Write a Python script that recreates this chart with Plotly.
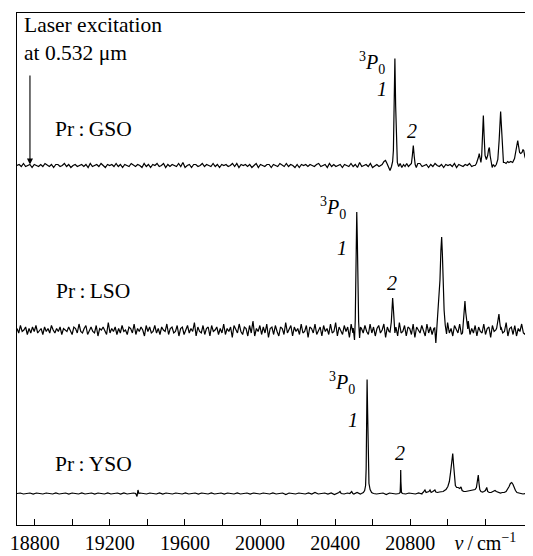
import numpy as np
import plotly.graph_objects as go

# ---------------- data ----------------
X_START, X_END = 18706, 21448          # wavenumber range, cm^-1
TICK_VALS = [18800, 19000, 19200, 19400, 19600, 19800, 20000, 20200,
             20400, 20600, 20800, 21000, 21200]
TICK_TEXT = ["18800", "", "19200", "", "19600", "", "20000", "",
             "20400", "", "20800", "", "<i>ν</i>\u2009/\u2009cm<sup>−1</sup>"]
LASER_CM = 18775                        # laser line marker position

# vertical offsets of the three stacked traces (arbitrary intensity units)
GSO_BASE, LSO_BASE, YSO_BASE = 359.5, 195.0, 31.5

GSO_NOISE = [0, 1, -1, 2, -1, 0, 1, -2, 1, 0, -1, 1, -1, 2, 0, -1, 1, -2, 1, 1, -1, 0, 2, -1, 1, -2, 0, 1, -1, 0,
             1, -1, 1, -2, 2, -1, 0, 1, -1, 2, 0, -2, 1, 0, 1, -1, 2, -1, 1, -2, 1, 0, -1, 2, 0, -1, 1, 0, -2, 2,
             -1, 1, -2, 1, 0, 2, -1, 0, 2, -2, 1, -1, 1, 0, -1, 2, -1, 3, -2, 0, 1, -2, 1, 1, -1, 0, 2, -1, 1, 0,
             -1, 2, -1, 1, -2, 1, 0, 1, -1, 0, 2, -1, 2, -2, 1, 0, 1, -1, 1, -2, 0, 2, -2, 1, 0, -1, 1, 1, -2, 1,
             0, -1, 2, 0, -1, 2, -1, 1, 0, -2, 1, -2, 1, 0, 1, -1, 1, 0, -1, 1, 2, -1, 0, 1, -2, 2, -1, 1, -1, 0,
             1, -2, 1, 0, -1, 2, -1, 1, -2, 3, -1, 0, 1, -1, 2, -2, 0, 1, -1, 1, 0, -2, 2, -1, 1, 0, -1, 2, -2, 1,
             -1, 1, 0, -2, 1, 1, -1, 2, -1, 0, 1, -2, 1, -1, 2, 0, -1, 1, -2, 1, 0, 1, -1, 2, -2, 1, 0, -1, 1, 0,
             2, -1, 0, 1, -2, 1, -1, 2, 0, -1, 1, -1, 2, -2, 1, 0, -1, 1, 0, -2, 1, 2, -1, 0, 1, -1, 2, -1, 0, 1]

LSO_NOISE = [1.5, -3, 4.5, -1.5, 0, 3, -4.5, 1.5, -3, 3, -1.5, 4.5, -3, 0, 1.5, -4.5, 3, -1.5, 1.5, -3, 4.5, 0, -3, 1.5, -1.5, 3, -4.5, 1.5, 0, -1.5,
             3, -1.5, -4.5, 3, 1.5, -3, 6, -1.5, -3, 1.5, 4.5, -4.5, 0, 3, -1.5, -3, 4.5, -6, 1.5, 0, 3, -1.5, -4.5, 7.5, -3, 1.5, -1.5, 3, -4.5, 1.5,
             -3, 4.5, -1.5, 0, -4.5, 3, 1.5, -3, 6, -4.5, 1.5, -1.5, 3, 0, -6, 4.5, -1.5, 3, -3, -1.5, 4.5, -3, 1.5, -4.5, 3, 0, -1.5, 6, -4.5, 1.5,
             3, -3, -1.5, 4.5, -6, 1.5, 3, -4.5, 0, 4.5, -3, 1.5, -1.5, 7.5, -6, 3, -1.5, -3, 4.5, -4.5, 1.5, 3, -6, 4.5, -1.5, 0, 3, -4.5, 1.5, -3,
             6, -4.5, 1.5, -1.5, 3, -7.5, 4.5, 0, -3, 6, -1.5, -4.5, 3, 1.5, -6, 4.5, -3, 9, -6, 1.5, -1.5, 4.5, -4.5, 3, -3, 6, -7.5, 1.5, 3, -4.5,
             4.5, -1.5, -6, 3, 1.5, -4.5, 7.5, -3, 0, 4.5, -6, 3, -1.5, 1.5, -4.5, 6, -3, -1.5, 4.5, -7.5, 3, 1.5, -3, 6, -4.5, 0, 3, -6, 4.5, -1.5,
             1.5, -4.5, 6, -3, -1.5, 7.5, -6, 3, 0, -4.5, 4.5, -1.5, 3, -7.5, 6, -3, 1.5, -4.5, 9, -6, 1.5, -3, 4.5, -1.5, -4.5, 6, -3, 3, -6, 1.5,
             4.5, -3, 0, 6, -7.5, 3, -1.5, 4.5, -4.5, 1.5, 3, -6, 7.5, -3, -1.5, 4.5, -6, 3, 1.5, -4.5, 6, -7.5, 3, 0, -3, 4.5, -1.5, -6, 6, -3,
             3, -4.5, 1.5, 7.5, -6, 1.5, -3, 4.5, -1.5, -4.5, 7.5, -3, 1.5, -6, 4.5, 0, -3, 6, -4.5, 3, -1.5, -6, 9, -4.5, 1.5, -3, 4.5, -6, 3, -1.5,
             -3, 6, -4.5, 1.5, 3, -7.5, 4.5, -1.5, 0, 6, -4.5, 3, -3, -1.5, 7.5, -6, 1.5, 3, -4.5, 4.5, -6, 1.5, -1.5, 6, -3, -4.5, 4.5, -1.5, 3, 0]

YSO_NOISE = [0, 0.5, -0.5, 0, 0.5, -0.5, 0.5, 0, -0.5, 0.5, 0, -0.5, 0.5, -0.5, 0, 0.5, -0.5, 0.5, 0, -0.5,
             0.5, -0.5, 0, 0.5, -0.5, 0.5, 0, -0.5, 0.5, -0.5, 0, 0.5, -0.5, 0.5, -0.5, 0, 0.5, -0.5, 0.5, 0,
             -0.5, 0.5, 0, -0.5, 0.5, -0.5, 0.5, 0, -0.5, 0.5, 0, -0.5, 0.5, -0.5, 0, 0.5, -0.5, 0.5, 0, -0.5,
             0.5, -0.5, 0, 0.5, -0.5, 0.5, 0, -0.5, 0.5, -0.5, 0, 0.5, -0.5, 0.5, 0, -0.5, 0.5, 0, -0.5, 0.5,
             -0.5, 0, 0.5, -1, 0.5, 0, -0.5, 0.5, 0, -0.5, 0.5, -0.5, 1, -0.5, 0, 0.5, -0.5, 0.5, -1, 0.5,
             0, -0.5, 0.5, 0, -0.5, 1, -0.5, 0.5, 0, -0.5, 0.5, -0.5, 0, 0.5, -1, 0.5, 0, -0.5, 0.5, 0,
             -0.5, 0.5, 0, -0.5, 0.5, -0.5, 0, 0.5, -0.5, 0.5, 0, -0.5, 0.5, -0.5, 0, 0.5, -0.5, 0.5, 0, -0.5,
             0.5, -0.5, 0, 0.5, -0.5, 0.5, 0, -0.5, 0.5, -0.5, 0, 0.5, -0.5, 0.5, 0, -0.5, 0.5, 0, -0.5, 0]

# digitised peak regions: (wavenumber, height above baseline)
GSO_PEAKS = [
    [(20650, 1), (20660, 4), (20668, 5), (20676, 2), (20686, -2), (20692, -5), (20700, -1), (20706, 4),
     (20710, 15), (20714, 60), (20718, 107), (20722, 60), (20726, 15), (20731, 3), (20738, -1), (20746, 2),
     (20755, -2), (20764, 1), (20772, -1), (20781, 2), (20790, -1), (20798, 1), (20806, 2), (20811, 10),
     (20816, 20), (20821, 9), (20826, 1), (20832, -2), (20840, 2)],
    [(21145, 0), (21152, 2), (21158, 5), (21164, 9), (21167, 12), (21171, 5), (21176, 3), (21180, 9),
     (21185, 30), (21189, 50), (21193, 30), (21198, 10), (21205, 6), (21212, 10), (21217, 16), (21221, 18),
     (21225, 10), (21230, 3), (21236, -2), (21242, 1), (21250, -1), (21258, 1), (21266, 6), (21273, 25),
     (21278, 45), (21281, 54), (21285, 40), (21290, 15), (21296, 3), (21303, 3), (21310, 2), (21318, 4),
     (21325, 3), (21335, 4), (21345, 3), (21355, 7), (21362, 14), (21368, 22), (21372, 25), (21376, 20),
     (21382, 13), (21388, 12), (21395, 13), (21400, 16), (21404, 15), (21410, 9), (21417, 4), (21425, 1),
     (21433, 0), (21440, 1), (21448, 0)],
]

LSO_PEAKS = [
    [(20496, 2), (20503, -10), (20507, 10), (20510, 45), (20512, 95), (20515, 118), (20518, 90),
     (20521, 40), (20525, 8), (20530, -8), (20535, 3)],
    [(20692, -2), (20699, 8), (20703, 25), (20706, 32), (20709, 24), (20713, 8), (20718, -3)],
    [(20930, 2), (20936, -13), (20942, 4), (20947, 12), (20952, 25), (20958, 50), (20963, 80), (20967, 93),
     (20971, 75), (20975, 45), (20980, 20), (20986, 5), (20993, -4)],
    [(21078, -3), (21084, 10), (21088, 24), (21091, 29), (21095, 18), (21100, 8), (21106, 1)],
    [(21260, 2), (21267, 10), (21272, 16), (21276, 8), (21282, 0)],
]

YSO_PEAKS = [
    [(19338, 0), (19345, -3), (19350, 3.5), (19355, 0)],
    [(20414, 0), (20420, 1), (20426, 2), (20432, 0)],
    [(20478, 0), (20484, 1.5), (20488, 2), (20494, 0)],
    [(20540, 0), (20550, 1), (20557, 3), (20562, 8), (20565, 25), (20567, 70), (20570, 114), (20573, 80),
     (20576, 30), (20580, 10), (20586, 4), (20594, 1), (20604, 0)],
    [(20740, 0), (20746, 1), (20748, 12), (20749, 23.5), (20750, 12), (20753, 1), (20758, 0)],
    [(20862, 0), (20870, 1.5), (20878, 3.5), (20884, 1), (20892, 1.5), (20899, 2), (20905, 3.5),
     (20911, 1), (20920, 2), (20926, 2.5), (20931, 3.5), (20936, 1.5), (20945, 1), (20955, 1.5),
     (20965, 1.5), (20975, 2), (20982, 3), (20990, 4), (21000, 7), (21008, 12), (21015, 22), (21021, 35),
     (21026, 40), (21030, 30), (21035, 15), (21040, 8), (21047, 6), (21055, 6), (21063, 5), (21070, 6.5),
     (21076, 3), (21085, 2), (21095, 2), (21105, 2.5), (21115, 3), (21125, 3), (21135, 4), (21145, 4),
     (21152, 6), (21157, 12), (21162, 18.5), (21166, 10), (21170, 4), (21176, 2), (21185, 1.5),
     (21192, 2), (21200, 3), (21207, 6), (21212, 2), (21220, 1), (21230, 1), (21240, 2), (21251, 3),
     (21258, 2), (21268, 1), (21280, 0.5), (21290, 1), (21300, 1), (21310, 2), (21318, 4), (21326, 7),
     (21333, 10), (21340, 11), (21347, 9), (21353, 6), (21360, 3), (21368, 1), (21378, 0.5), (21390, 0),
     (21400, -0.5), (21415, 0), (21430, 0.5), (21448, 0)],
]

SAMPLES = ["Pr\u2009:\u2009GSO", "Pr\u2009:\u2009LSO", "Pr\u2009:\u2009YSO"]


def build_trace(noise, peaks, base):
    grid = np.linspace(X_START, X_END, len(noise))
    pts = [(float(x), float(n)) for x, n in zip(grid, noise)
           if not any(g[0][0] <= x <= g[-1][0] for g in peaks)]
    for g in peaks:
        pts.extend(g)
    pts.sort()
    xs = [p[0] for p in pts]
    ys = [p[1] + base for p in pts]
    return xs, ys


FONT = "Liberation Serif, serif"
fig = go.Figure()
for noise, peaks, base in [(GSO_NOISE, GSO_PEAKS, GSO_BASE),
                           (LSO_NOISE, LSO_PEAKS, LSO_BASE),
                           (YSO_NOISE, YSO_PEAKS, YSO_BASE)]:
    xs, ys = build_trace(noise, peaks, base)
    fig.add_trace(go.Scatter(x=xs, y=ys, mode="lines",
                             line=dict(color="black", width=1.2),
                             showlegend=False, hoverinfo="skip"))

ann = []


def txt(text, x, y, xanchor="center", size=21.5):
    ann.append(dict(text=text, x=x, y=y, xref="x", yref="y", showarrow=False,
                    xanchor=xanchor, yanchor="middle",
                    font=dict(family=FONT, size=size, color="black")))


txt("Laser excitation", 18731, 500, "left")
txt("at 0.532 μm", 18731, 472, "left")
txt(SAMPLES[0], 19113, 396)
txt(SAMPLES[1], 19113, 234)
txt(SAMPLES[2], 19113, 61)
P0 = "<sup>3</sup><i>P</i><sub>0</sub>"
txt(P0, 20594, 462, size=20)
txt(P0, 20390, 317, size=20)
txt(P0, 20435, 142, size=20)
txt("<i>1</i>", 20649, 436, size=20)
txt("<i>1</i>", 20439, 277, size=20)
txt("<i>1</i>", 20497, 105, size=20)
txt("<i>2</i>", 20809, 394.5, size=20)
txt("<i>2</i>", 20703, 242, size=20)
txt("<i>2</i>", 20745, 72.5, size=20)

ann.append(dict(x=LASER_CM, y=GSO_BASE + 1, ax=LASER_CM, ay=451,
                xref="x", yref="y", axref="x", ayref="y",
                text="", showarrow=True, arrowhead=2, arrowsize=1.1,
                arrowwidth=1.1, arrowcolor="black"))

# the page body has an 8 px margin, so the figure is sized/offset to compensate
fig.update_layout(
    width=525, height=548,
    margin=dict(l=9, r=1, t=5, b=31),
    paper_bgcolor="white", plot_bgcolor="white",
    annotations=ann,
    font=dict(family=FONT, size=20, color="black"),
    xaxis=dict(range=[X_START, X_END], tickvals=TICK_VALS, ticktext=TICK_TEXT,
               ticks="inside", ticklen=6, tickwidth=1, tickcolor="black",
               showline=True, linecolor="black", linewidth=1, mirror=True,
               showgrid=False, zeroline=False,
               tickfont=dict(family=FONT, size=20, color="black")),
    yaxis=dict(range=[0, 512], showticklabels=False, ticks="",
               showline=True, linecolor="black", linewidth=1, mirror=True,
               showgrid=False, zeroline=False),
)

fig.write_html("out.html")
